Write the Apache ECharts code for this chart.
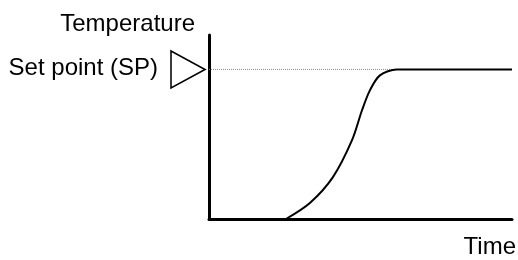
<!DOCTYPE html>
<html>
<head>
<meta charset="utf-8">
<script src="https://cdn.jsdelivr.net/npm/echarts@6/dist/echarts.min.js"></script>
<style>
  html, body { margin: 0; padding: 0; background: #fff; }
  #chart { width: 518px; height: 260px; }
</style>
</head>
<body>
<div id="chart"></div>
<script>
// time (0..100) and temperature (set point = 100)
var timeVals = [25.4, 33.3, 40.9, 47.2, 50.5, 53.1, 56.4, 62, 100];
var tempVals = [0, 10.7, 28, 52.7, 72.7, 86, 96, 100, 100];
var setPoint = 100;
var spLineEnd = 62;
var labels = { y: 'Temperature', sp: 'Set point (SP)', x: 'Time' };

var font = '"Liberation Sans", Arial, sans-serif';

var chart = echarts.init(document.getElementById('chart'), null, { renderer: 'canvas' });
chart.setOption({
    animation: false,
    grid: { left: 209, right: 6, top: 35, bottom: 41 },
    xAxis: {
        type: 'value', min: 0, max: 100,
        axisLine: { show: true, onZero: false, lineStyle: { color: '#000', width: 3 } },
        axisTick: { show: false }, axisLabel: { show: false }, splitLine: { show: false }
    },
    yAxis: {
        type: 'value', min: 0, max: 123,
        axisLine: { show: true, onZero: false, lineStyle: { color: '#000', width: 3 } },
        axisTick: { show: false }, axisLabel: { show: false }, splitLine: { show: false }
    },
    series: [
        {
            type: 'line',
            data: [[0, setPoint], [spLineEnd, setPoint]],
            symbol: 'none',
            lineStyle: { color: '#888', width: 1, type: [1, 1] },
            z: 1
        },
        {
            type: 'line',
            smooth: 0.3,
            data: timeVals.map(function (t, i) { return [t, tempVals[i]]; }),
            symbol: 'none',
            lineStyle: { color: '#000', width: 2 },
            z: 2
        },
        {
            type: 'scatter',
            clip: false,
            data: [[0, setPoint]],
            symbol: 'path://M0,0 L34,18.5 L0,37 Z',
            symbolSize: [34, 37],
            symbolOffset: [-21, 0],
            itemStyle: { color: '#fff', borderColor: '#000', borderWidth: 1.6, opacity: 1 },
            z: 3
        }
    ],
    graphic: [
        { type: 'text', right: 518 - 195, top: 12,
          style: { text: labels.y, font: '24px ' + font, fill: '#000' } },
        { type: 'text', right: 518 - 158, top: 56,
          style: { text: labels.sp, font: '24px ' + font, fill: '#000' } },
        { type: 'text', right: 2, top: 235,
          style: { text: labels.x, font: '24px ' + font, fill: '#000' } }
    ]
});
</script>
</body>
</html>
